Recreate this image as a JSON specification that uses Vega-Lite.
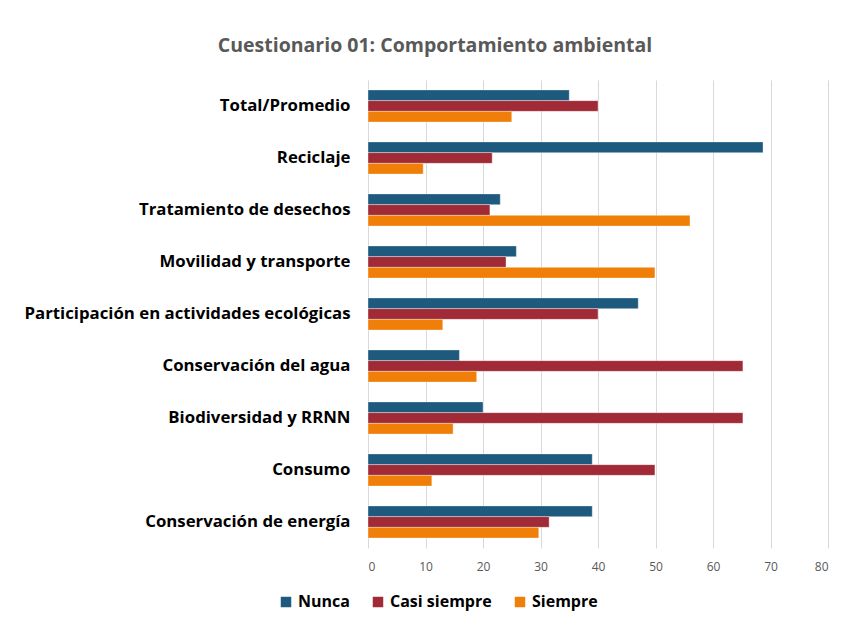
{
  "$schema": "https://vega.github.io/schema/vega-lite/v6.json",
  "width": 460,
  "height": 468,
  "autosize": {"type": "none"},
  "padding": {"left": 368, "top": 80, "right": 21, "bottom": 85},
  "background": "white",
  "title": {
    "text": "Cuestionario 01: Comportamiento ambiental",
    "font": "Open Sans",
    "fontSize": 19.5,
    "fontWeight": "bold",
    "color": "#595959",
    "anchor": "middle",
    "frame": "group",
    "dx": -163,
    "offset": 24
  },
  "data": {
    "values": [
      {"cat": "Total/Promedio", "serie": "Nunca", "v": 35},
      {"cat": "Total/Promedio", "serie": "Casi siempre", "v": 40},
      {"cat": "Total/Promedio", "serie": "Siempre", "v": 25},
      {"cat": "Reciclaje", "serie": "Nunca", "v": 68.7},
      {"cat": "Reciclaje", "serie": "Casi siempre", "v": 21.6},
      {"cat": "Reciclaje", "serie": "Siempre", "v": 9.6},
      {"cat": "Tratamiento de desechos", "serie": "Nunca", "v": 23},
      {"cat": "Tratamiento de desechos", "serie": "Casi siempre", "v": 21.2},
      {"cat": "Tratamiento de desechos", "serie": "Siempre", "v": 56},
      {"cat": "Movilidad y transporte ", "serie": "Nunca", "v": 25.8},
      {"cat": "Movilidad y transporte ", "serie": "Casi siempre", "v": 24},
      {"cat": "Movilidad y transporte ", "serie": "Siempre", "v": 49.9},
      {"cat": "Participación en actividades ecológicas", "serie": "Nunca", "v": 47},
      {"cat": "Participación en actividades ecológicas", "serie": "Casi siempre", "v": 40},
      {"cat": "Participación en actividades ecológicas", "serie": "Siempre", "v": 13},
      {"cat": "Conservación del agua", "serie": "Nunca", "v": 15.9},
      {"cat": "Conservación del agua", "serie": "Casi siempre", "v": 65.2},
      {"cat": "Conservación del agua", "serie": "Siempre", "v": 18.9},
      {"cat": "Biodiversidad y RRNN", "serie": "Nunca", "v": 20},
      {"cat": "Biodiversidad y RRNN", "serie": "Casi siempre", "v": 65.2},
      {"cat": "Biodiversidad y RRNN", "serie": "Siempre", "v": 14.8},
      {"cat": "Consumo", "serie": "Nunca", "v": 39},
      {"cat": "Consumo", "serie": "Casi siempre", "v": 49.9},
      {"cat": "Consumo", "serie": "Siempre", "v": 11.1},
      {"cat": "Conservación de energía", "serie": "Nunca", "v": 39},
      {"cat": "Conservación de energía", "serie": "Casi siempre", "v": 31.5},
      {"cat": "Conservación de energía", "serie": "Siempre", "v": 29.7}
    ]
  },
  "mark": {"type": "bar", "stroke": "white", "strokeWidth": 0.6, "strokeOpacity": 0.6},
  "encoding": {
    "y": {
      "field": "cat",
      "type": "nominal",
      "sort": null,
      "title": null,
      "scale": {"paddingInner": 0.38, "paddingOuter": 0.19},
      "axis": {
        "domain": false,
        "ticks": false,
        "labelFont": "Open Sans",
        "labelFontSize": 16.8,
        "labelFontWeight": "bold",
        "labelColor": "#000000",
        "labelPadding": 18,
        "labelLimit": 400
      }
    },
    "yOffset": {
      "field": "serie",
      "type": "nominal",
      "sort": ["Nunca", "Casi siempre", "Siempre"]
    },
    "x": {
      "field": "v",
      "type": "quantitative",
      "title": null,
      "scale": {"domain": [0, 80], "nice": false},
      "axis": {
        "values": [0, 10, 20, 30, 40, 50, 60, 70, 80],
        "domain": false,
        "ticks": false,
        "grid": true,
        "gridColor": "#D9D9D9",
        "gridWidth": 1,
        "labelFont": "Open Sans",
        "labelFontSize": 12,
        "labelColor": "#595959",
        "labelPadding": 13
      }
    },
    "color": {
      "field": "serie",
      "type": "nominal",
      "sort": ["Nunca", "Casi siempre", "Siempre"],
      "scale": {
        "domain": ["Nunca", "Casi siempre", "Siempre"],
        "range": ["#1E5A7D", "#A12A37", "#F07F09"]
      },
      "legend": {
        "title": null,
        "orient": "none",
        "direction": "horizontal",
        "legendX": -90,
        "legendY": 514,
        "symbolType": "square",
        "symbolSize": 110,
        "symbolStrokeWidth": 0,
        "labelFont": "Open Sans",
        "labelFontSize": 16,
        "labelFontWeight": "bold",
        "labelColor": "#000000",
        "columnPadding": 20,
        "labelOffset": 4
      }
    }
  },
  "config": {"view": {"stroke": null}}
}
